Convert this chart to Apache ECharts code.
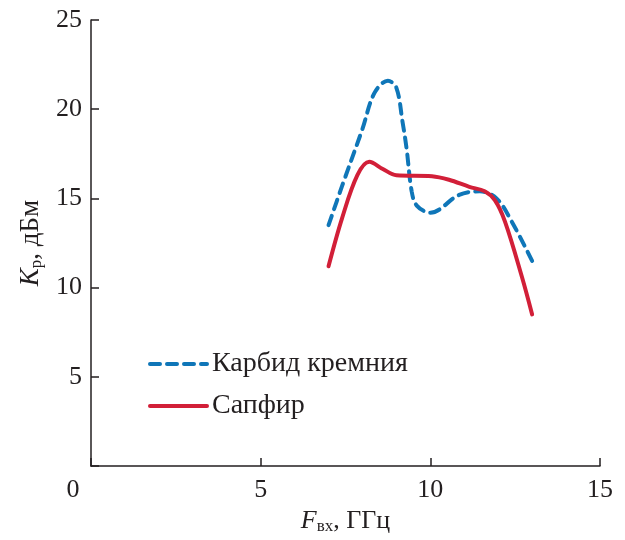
<!DOCTYPE html>
<html><head><meta charset="utf-8">
<script src="https://cdn.jsdelivr.net/npm/echarts@6/dist/echarts.min.js"></script>
<style>html,body{margin:0;padding:0;background:#fff}#c{width:625px;height:540px}</style>
</head><body><div id="c"></div>
<script>
const seriesNames = ['Карбид кремния', 'Сапфир'];
const sicX = [7.0, 7.4, 8.0, 8.35, 8.75, 9.0, 9.18, 9.3, 9.45, 9.6, 10.0, 10.85, 11.45, 11.95, 12.4, 13.0];
const sicY = [13.5, 15.7, 18.9, 20.9, 21.6, 21.2, 19.3, 17.8, 15.4, 14.6, 14.2, 15.2, 15.4, 15.0, 13.7, 11.5];
const sapX = [7.0, 7.4, 7.85, 8.2, 8.6, 9.0, 10.05, 10.55, 11.15, 11.6, 11.9, 12.2, 12.7, 13.0];
const sapY = [11.2, 13.9, 16.3, 17.05, 16.65, 16.3, 16.25, 16.05, 15.65, 15.4, 14.9, 13.7, 10.6, 8.5];
const xTicks = [0, 5, 10, 15];
const yTicks = [0, 5, 10, 15, 20, 25];

const font = 'Liberation Serif';
const ink = '#231f20';
const chart = echarts.init(document.getElementById('c'));
chart.setOption({
  animation: false,
  backgroundColor: '#fff',
  grid: {left: 91, right: 25, top: 20, bottom: 71},
  legend: {
    orient: 'vertical', left: 143, top: 345, itemWidth: 57, itemHeight: 10, itemGap: 14,
    itemStyle: {opacity: 0},
    lineStyle: {width: 4},
    textStyle: {fontFamily: font, fontSize: 28, color: ink},
    data: seriesNames
  },
  xAxis: {
    type: 'value', min: xTicks[0], max: xTicks[xTicks.length-1], interval: 5,
    axisLine: {lineStyle: {color: ink, width: 1.5}},
    axisTick: {inside: true, length: 8, lineStyle: {color: ink, width: 1.5}},
    splitLine: {show: false},
    axisLabel: {
      fontFamily: font, fontSize: 26, color: ink, margin: 11,
      formatter: v => v === 0 ? '{z|0}' : String(v),
      rich: {z: {fontFamily: font, fontSize: 26, color: ink, padding: [0, 36, 0, 0]}}
    },
    name: '{i|F}{s|вх}{n|, ГГц}', nameLocation: 'middle', nameGap: 38,
    nameTextStyle: {
      rich: {
        i: {fontFamily: font, fontStyle: 'italic', fontSize: 26, color: ink},
        s: {fontFamily: font, fontSize: 17, color: ink, padding: [11, 0, 0, 0]},
        n: {fontFamily: font, fontSize: 26, color: ink}
      }
    }
  },
  yAxis: {
    type: 'value', min: yTicks[0], max: yTicks[yTicks.length-1], interval: 5,
    axisLine: {show: true, lineStyle: {color: ink, width: 1.5}},
    axisTick: {show: true, inside: true, length: 8, lineStyle: {color: ink, width: 1.5}},
    splitLine: {show: false},
    axisLabel: {
      fontFamily: font, fontSize: 26, color: ink, margin: 9,
      formatter: v => v === 0 ? '' : String(v)
    },
    name: '{i|K}{s|р}{n|, дБм}', nameLocation: 'middle', nameGap: 46, nameRotate: 90,
    nameTextStyle: {
      rich: {
        i: {fontFamily: font, fontStyle: 'italic', fontSize: 27, color: ink},
        s: {fontFamily: font, fontSize: 17, color: ink, padding: [11, 0, 0, 0]},
        n: {fontFamily: font, fontSize: 27, color: ink}
      }
    }
  },
  series: [
    {
      name: seriesNames[0], type: 'line', smooth: 0.35, symbol: 'none',
      data: sicX.map((x, i) => [x, sicY[i]]),
      itemStyle: {color: '#0f76b8'},
      lineStyle: {color: '#0f76b8', width: 4, type: [10, 7], cap: 'round'}
    },
    {
      name: seriesNames[1], type: 'line', smooth: 0.35, symbol: 'none',
      data: sapX.map((x, i) => [x, sapY[i]]),
      itemStyle: {color: '#d21f38'},
      lineStyle: {color: '#d21f38', width: 4, cap: 'round'}
    }
  ]
});
</script></body></html>
